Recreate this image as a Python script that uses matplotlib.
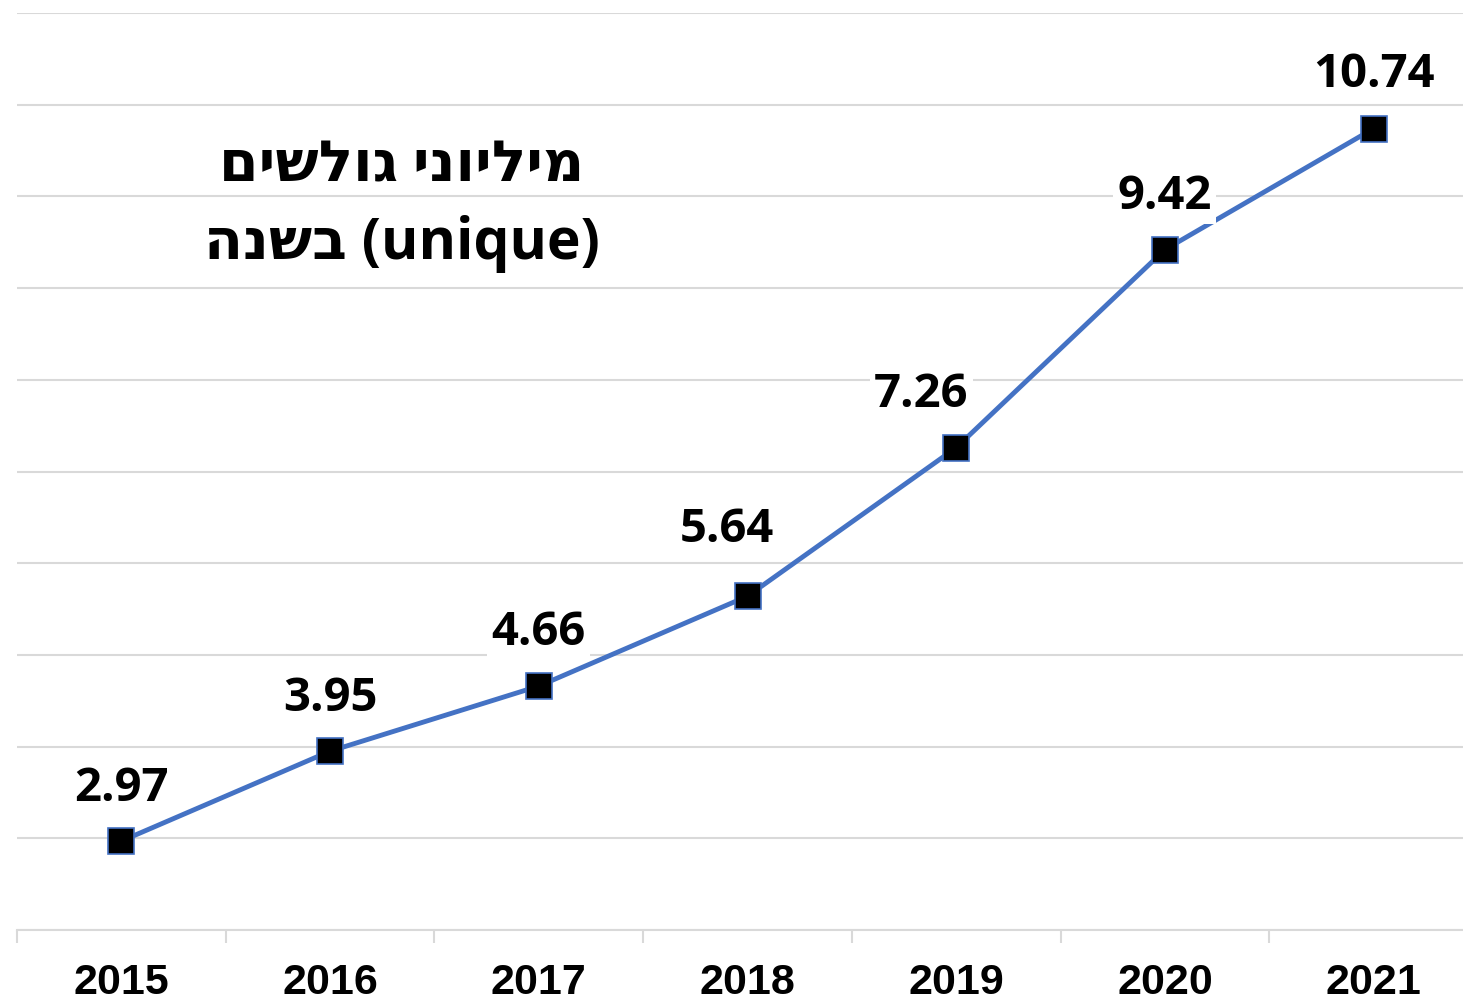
import matplotlib
matplotlib.use('Agg')
import matplotlib.pyplot as plt

years = ['2015', '2016', '2017', '2018', '2019', '2020', '2021']
surfers_m = [2.97, 3.95, 4.66, 5.64, 7.26, 9.42, 10.74]
# מיליוני גולשים בשנה (unique) - visual order, matplotlib has no bidi
title_lines = ['םישלוג ינוילימ', 'הנשב (unique)']

DPI = 100
fig = plt.figure(figsize=(14.63, 10.02), dpi=DPI)
ax = fig.add_axes([17/1463, 72/1002, 1461/1463, 917/1002])

x = list(range(len(years)))
ax.plot(x, surfers_m, color='#4472C4', lw=3.5, marker='s', ms=19,
        mfc='black', mec='#4472C4', mew=1.2, zorder=3)

# label offsets in px (a couple were nudged left in the original)
offs = [(0, 53), (0, 53), (0, 54), (-21, 67), (-35, 53), (0, 53), (0, 54)]
for xi, v, (dx, dy) in zip(x, surfers_m, offs):
    ax.annotate(f'{v:.2f}', (xi, v), xytext=(dx*72/DPI, dy*72/DPI), textcoords='offset points',
                ha='center', va='center', fontsize=34, fontweight='bold',
                family=['Open Sans', 'DejaVu Sans'], color='black', zorder=4,
                bbox=dict(facecolor='white', edgecolor='none', pad=3))

ax.set_xlim(-0.5, len(years)-0.5)
ax.set_ylim(2, 12)
ax.set_yticks(range(2, 13))
ax.yaxis.grid(True, color='#d9d9d9', lw=1.5)
ax.set_axisbelow(True)
ax.tick_params(axis='y', left=False, labelleft=False)
ax.set_xticks(x)
ax.set_xticklabels(years, fontsize=31, fontweight='bold', family=['Liberation Sans', 'DejaVu Sans'])
ax.tick_params(axis='x', length=0, pad=24)
ax.set_xticks([i - 0.5 for i in range(len(years)+1)], minor=True)
ax.tick_params(axis='x', which='minor', length=9, width=1.5, color='#d9d9d9')
for s in ['top', 'right', 'left']:
    ax.spines[s].set_visible(False)
ax.spines['bottom'].set_color('#d9d9d9')
ax.spines['bottom'].set_linewidth(1.5)

fig.text(402/1463, 1-167/1002, title_lines[0], ha='center', va='center', fontsize=41,
         fontweight='bold', family=['Open Sans', 'DejaVu Sans'])
fig.text(402/1463, 1-244/1002, title_lines[1], ha='center', va='center', fontsize=41,
         fontweight='bold', family=['Open Sans', 'DejaVu Sans'])

fig.savefig('out.png', dpi=DPI)
